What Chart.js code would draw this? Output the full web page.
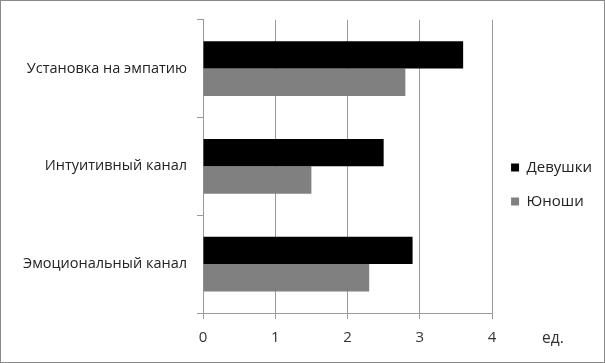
<!DOCTYPE html>
<html>
<head>
<meta charset="utf-8">
<script src="https://cdn.jsdelivr.net/npm/chart.js@4"></script>
<style>
  html, body { margin: 0; padding: 0; background: #fff; }
  .chart-box {
    width: 605px; height: 363px; box-sizing: border-box;
    border: 1px solid #8a8a8a; position: relative;
  }
</style>
</head>
<body>
<div class="chart-box">
  <canvas id="myChart" width="603" height="361"></canvas>
</div>
<script>
// data
const categories = ['Установка на эмпатию', 'Интуитивный канал', 'Эмоциональный канал'];
const girls = [3.6, 2.5, 2.9];
const boys = [2.8, 1.5, 2.3];
const seriesNames = ['Девушки', 'Юноши'];
const xTicks = [0, 1, 2, 3, 4];
const unitLabel = 'ед.';

const font = '"Open Sans", "Noto Sans", sans-serif';

// draws the "ед." unit next to the last x tick
const unitPlugin = {
  id: 'unitLabel',
  afterDraw(chart) {
    const x = chart.scales.x;
    const ctx = chart.ctx;
    ctx.save();
    ctx.font = '15.5px ' + font;
    ctx.fillStyle = '#333';
    ctx.textAlign = 'left';
    ctx.textBaseline = 'middle';
    ctx.fillText(unitLabel, x.right + 50, x.bottom - 18);
    ctx.restore();
  }
};

new Chart(document.getElementById('myChart'), {
  type: 'bar',
  data: {
    labels: categories,
    datasets: [
      { label: seriesNames[0], data: girls, backgroundColor: '#000000' },
      { label: seriesNames[1], data: boys, backgroundColor: '#808080' }
    ]
  },
  options: {
    indexAxis: 'y',
    responsive: false,
    animation: false,
    layout: { padding: { left: 0, right: 2, top: 11, bottom: 5 } },
    datasets: { bar: { categoryPercentage: 0.56, barPercentage: 1.0 } },
    scales: {
      x: {
        min: 0, max: 4,
        afterBuildTicks: (s) => { s.ticks = xTicks.map(v => ({ value: v })); },
        grid: { color: '#9a9a9a', tickLength: 6, lineWidth: 1 },
        border: { color: '#9a9a9a' },
        ticks: { color: '#333', font: { family: font, size: 15 }, padding: 10 }
      },
      y: {
        afterFit: (s) => { s.width = 202; },
        grid: { drawOnChartArea: false, offset: true, color: '#9a9a9a', tickLength: 6 },
        border: { color: '#9a9a9a' },
        ticks: { color: '#222', font: { family: font, size: 14.5 }, padding: 10 }
      }
    },
    plugins: {
      legend: {
        position: 'right',
        labels: {
          boxWidth: 8, boxHeight: 8, padding: 19,
          color: '#222', font: { family: font, size: 15 }
        }
      },
      tooltip: { enabled: false }
    }
  },
  plugins: [unitPlugin]
});
</script>
</body>
</html>
